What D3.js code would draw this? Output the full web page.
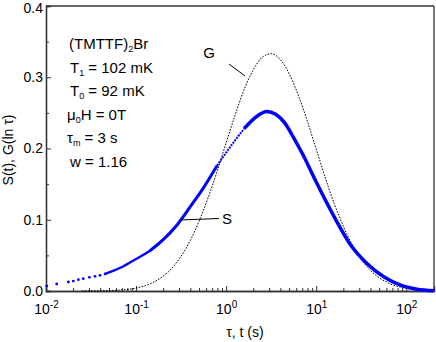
<!DOCTYPE html>
<html>
<head>
<meta charset="utf-8">
<script src="https://cdn.jsdelivr.net/npm/d3@7"></script>
<style>
  body { margin: 0; background: #fff; }
  svg { font-family: "Liberation Sans", Arial, sans-serif; }
</style>
</head>
<body>
<script>
// S(t): left part drawn as separate dots, rest as a thick line
var sDotTau = [0.0102, 0.01315, 0.0177, 0.0201, 0.0229, 0.0259, 0.0303, 0.035, 0.0398, 0.0453];
var sDotVal = [0.0070, 0.0098, 0.0126, 0.0140, 0.0159, 0.0173, 0.0192, 0.0206, 0.0220, 0.0239];

var sTau = [0.0453, 0.0501, 0.0708, 0.1, 0.141, 0.2, 0.282, 0.398, 0.562, 0.794, 1.122,
            1.585, 2.239, 2.818, 3.548, 4.467, 5.623, 7.079, 10, 15.85, 24.0, 36.3, 56.2,
            85.1, 131.8, 200];
var sVal = [0.0239, 0.026, 0.034, 0.045, 0.056, 0.072, 0.092, 0.118, 0.145, 0.176, 0.203,
            0.228, 0.246, 0.252, 0.248, 0.236, 0.215, 0.192, 0.153, 0.104, 0.065, 0.039, 0.020,
            0.0085, 0.0025, 0.0003];

// G(ln tau), dotted curve
var gTau = [0.0251, 0.0398, 0.0631, 0.1, 0.158, 0.251, 0.398, 0.631, 0.794, 1, 1.259, 1.585,
            1.995, 2.51, 3.16, 3.98, 5.01, 6.31, 7.94, 10, 15.8, 25.1, 39.8, 63.1, 100, 158, 200];
var gVal = [0.0001, 0.0003, 0.0012, 0.0042, 0.0127, 0.0323, 0.0703, 0.131, 0.168, 0.208, 0.247, 0.283,
            0.310, 0.328, 0.333, 0.325, 0.305, 0.275, 0.239, 0.199, 0.123, 0.065, 0.0293, 0.0113, 0.0037, 0.001, 0.0005];

var xMajor = [0.01, 0.1, 1, 10, 100];
var xExp = ["-2", "-1", "0", "1", "2"];
var yMajor = [0, 0.1, 0.2, 0.3, 0.4];

var infoLines = [
  [["(TMTTF)", ""], ["2", "sub"], ["Br", ""]],
  [["T", ""], ["1", "sub"], [" = 102 mK", ""]],
  [["T", ""], ["0", "sub"], [" = 92 mK", ""]],
  [["\u03bc", ""], ["0", "sub"], ["H = 0T", ""]],
  [["\u03c4", ""], ["m", "sub"], [" = 3 s", ""]],
  [["w = 1.16", ""]]
];
var infoX = [69, 70, 70, 67, 67, 70];

var svgWidth = 436, svgHeight = 342;
var margin = { top: 6, right: 2, bottom: 51, left: 46 };
var width = svgWidth - margin.left - margin.right;
var height = svgHeight - margin.top - margin.bottom;

var svg = d3.select("body").append("svg")
  .attr("width", svgWidth)
  .attr("height", svgHeight);

var chartGroup = svg.append("g")
  .attr("transform", `translate(${margin.left}, ${margin.top})`);

var xScale = d3.scaleLog().domain([0.01, 203]).range([0, width]);
var yScale = d3.scaleLinear().domain([0, 0.4]).range([height, 0]);

// minor ticks
var xMinor = [];
xMajor.forEach(function(m) {
  for (var k = 2; k <= 9; k++) {
    if (m * k <= 203) xMinor.push(m * k);
  }
});

chartGroup.append("g")
  .attr("class", "x-minor")
  .attr("transform", `translate(0, ${height})`)
  .call(d3.axisBottom(xScale).tickValues(xMinor).tickSize(-3).tickFormat(""));

var xAxis = chartGroup.append("g")
  .attr("class", "x-axis")
  .attr("transform", `translate(0, ${height})`)
  .call(d3.axisBottom(xScale).tickValues(xMajor).tickSize(-5).tickPadding(8).tickFormat(""));

xAxis.selectAll(".tick text")
  .attr("font-size", 14)
  .attr("fill", "#000")
  .attr("dy", "1.05em")
  .each(function(d, i) {
    var t = d3.select(this);
    t.append("tspan").text("10");
    t.append("tspan").attr("font-size", 10).attr("dy", "-0.55em").text(xExp[i]);
  });

chartGroup.append("g")
  .attr("class", "y-minor")
  .call(d3.axisLeft(yScale).tickValues([0.05, 0.15, 0.25, 0.35]).tickSize(-3).tickFormat(""));

var yAxis = chartGroup.append("g")
  .attr("class", "y-axis")
  .call(d3.axisLeft(yScale).tickValues(yMajor).tickSize(-5).tickPadding(3).tickFormat(d3.format(".1f")));

yAxis.selectAll(".tick text").attr("font-size", 14).attr("fill", "#000");
// keep the top label inside the window
yAxis.selectAll(".tick text").filter(function(d) { return d === 0.4; }).attr("dy", "0.45em");

svg.selectAll(".domain").attr("stroke", "#333").attr("stroke-width", 1.3);
svg.selectAll(".tick line").attr("stroke", "#333");

// top and right frame
chartGroup.append("line")
  .attr("x1", 0).attr("x2", width).attr("y1", 0).attr("y2", 0)
  .attr("stroke", "#333").attr("stroke-width", 1.3);
chartGroup.append("line")
  .attr("x1", width).attr("x2", width).attr("y1", 0).attr("y2", height)
  .attr("stroke", "#333").attr("stroke-width", 1.3);

// G curve
var gData = gTau.map(function(t, i) { return { t: t, v: gVal[i] }; });
var line = d3.line()
  .x(function(d) { return xScale(d.t); })
  .y(function(d) { return yScale(d.v); })
  .curve(d3.curveMonotoneX);

chartGroup.append("path")
  .datum(gData)
  .attr("d", line)
  .attr("fill", "none")
  .attr("stroke", "#000")
  .attr("stroke-width", 1)
  .attr("stroke-dasharray", "1.6,1.4");

// S curve
var sData = sTau.map(function(t, i) { return { t: t, v: sVal[i] }; });

function sPath(lo, hi, w, dash) {
  var p = chartGroup.append("path")
    .datum(sData.filter(function(d) { return d.t >= lo && d.t <= hi; }))
    .attr("d", line)
    .attr("fill", "none")
    .attr("stroke", "#0000ff")
    .attr("stroke-width", w);
  if (dash) p.attr("stroke-dasharray", dash);
}

sPath(0.045, 0.2, 2.4);
sPath(0.141, 0.794, 3);
sPath(0.794, 1.585, 2, "2,1");
sPath(1.585, 200, 3.5);

chartGroup.selectAll(".sdot")
  .data(sDotTau)
  .enter()
  .append("circle")
  .attr("class", "sdot")
  .attr("cx", function(d) { return xScale(d); })
  .attr("cy", function(d, i) { return yScale(sDotVal[i]); })
  .attr("r", 1.4)
  .attr("fill", "#0000ff");

// curve labels
svg.append("text").attr("x", 209).attr("y", 58).attr("text-anchor", "middle")
  .attr("font-size", 15).text("G");
svg.append("line").attr("x1", 229).attr("y1", 64).attr("x2", 245).attr("y2", 76)
  .attr("stroke", "#000").attr("stroke-width", 1);

svg.append("text").attr("x", 227).attr("y", 224).attr("text-anchor", "middle")
  .attr("font-size", 15).text("S");
svg.append("line").attr("x1", 180).attr("y1", 220).attr("x2", 219).attr("y2", 218.5)
  .attr("stroke", "#000").attr("stroke-width", 1);

// info block
var info = svg.append("g").attr("font-size", 15);
infoLines.forEach(function(parts, i) {
  var t = info.append("text").attr("x", infoX[i]).attr("y", 49 + i * 23.5);
  parts.forEach(function(p) {
    if (p[1] === "sub") {
      t.append("tspan").attr("font-size", 9).attr("dy", "0.35em").text(p[0]);
    } else {
      var ts = t.append("tspan").text(p[0]);
      if (t.selectAll("tspan").size() > 1) ts.attr("dy", "-0.21em");
    }
  });
});

// axis titles
svg.append("text")
  .attr("transform", "translate(13, 150) rotate(-90)")
  .attr("text-anchor", "middle")
  .attr("font-size", 14)
  .text("S(t), G(ln \u03c4)");

svg.append("text")
  .attr("x", 245).attr("y", 337)
  .attr("text-anchor", "middle")
  .attr("font-size", 14)
  .text("\u03c4, t (s)");
</script>
</body>
</html>
